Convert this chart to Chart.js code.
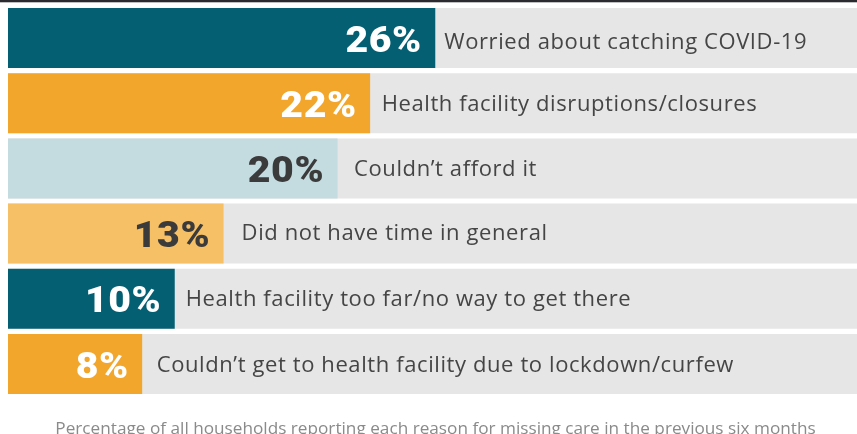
<!DOCTYPE html>
<html><head><meta charset="utf-8">
<script src="https://cdn.jsdelivr.net/npm/chart.js@4"></script>
<style>html,body{margin:0;padding:0;background:#fff}#w{width:857px;height:434px;position:relative}</style>
</head><body><div id="w"><canvas id="c"></canvas></div>
<script>
const categories = [
  "Worried about catching COVID-19",
  "Health facility disruptions/closures",
  "Couldn\u2019t afford it",
  "Did not have time in general",
  "Health facility too far/no way to get there",
  "Couldn\u2019t get to health facility due to lockdown/curfew"
];
const values = [26, 22, 20, 13, 10, 8];
const valueLabels = ["26%", "22%", "20%", "13%", "10%", "8%"];
const barColors = ["#045f73", "#f2a62b", "#c4dbe0", "#f6c066", "#045f73", "#f2a62b"];
const valueTextColors = ["#ffffff", "#ffffff", "#3b3b3b", "#3b3b3b", "#ffffff", "#ffffff"];
const caption = "Percentage of all households reporting each reason for missing care in the previous six months";
const scaleMin = -0.24, scaleMax = 51.9;
const trackValues = categories.map(() => scaleMax);
// label placement tweaks (style only)
const labelGap = [9, 11.5, 16.5, 18, 11, 14.5];
const labelDy = [10.5, 7.8, 7.2, 6.8, 7, 7.5];

const labelPlugin = {
  id: 'labels',
  beforeDraw(chart) {
    const ctx = chart.ctx;
    ctx.save();
    ctx.fillStyle = '#2b2b2f';
    ctx.fillRect(0, 0, chart.width, 2.3);
    ctx.restore();
  },
  afterDatasetsDraw(chart) {
    const ctx = chart.ctx;
    const meta = chart.getDatasetMeta(1);
    ctx.save();
    ctx.textBaseline = 'alphabetic';
    meta.data.forEach((bar, i) => {
      ctx.save();
      ctx.letterSpacing = '0.5px';
      ctx.font = '900 36px Roboto, "Liberation Sans", sans-serif';
      ctx.fillStyle = valueTextColors[i];
      ctx.textAlign = 'right';
      ctx.translate(bar.x - 13.5, bar.y + 13.5);
      ctx.scale(1.09, 1);
      ctx.fillText(valueLabels[i], 0, 0);
      ctx.restore();
      ctx.letterSpacing = '0.6px';
      ctx.font = '400 22px "Open Sans", "Liberation Sans", sans-serif';
      ctx.fillStyle = '#454545';
      ctx.textAlign = 'left';
      ctx.fillText(categories[i], bar.x + labelGap[i], bar.y + labelDy[i]);
    });
    ctx.letterSpacing = '0px';
    ctx.font = '400 17.2px "Open Sans", "Liberation Sans", sans-serif';
    ctx.fillStyle = '#8a8a8a';
    ctx.textAlign = 'center';
    ctx.fillText(caption, 435.5, 433.5);
    ctx.restore();
  }
};

new Chart(document.getElementById('c'), {
  type: 'bar',
  data: {
    labels: categories,
    datasets: [
      { data: trackValues, backgroundColor: '#e6e6e6', grouped: false, order: 2, base: scaleMin,
        categoryPercentage: 1, barPercentage: 0.92 },
      { data: values, backgroundColor: barColors, grouped: false, order: 1, base: scaleMin,
        categoryPercentage: 1, barPercentage: 0.92 }
    ]
  },
  options: {
    indexAxis: 'y',
    responsive: true,
    maintainAspectRatio: false,
    animation: false,
    layout: { padding: { left: 8, right: 0, top: 5.4, bottom: 37.4 } },
    scales: {
      x: { display: false, min: scaleMin, max: scaleMax },
      y: { display: false }
    },
    plugins: { legend: { display: false }, tooltip: { enabled: false } }
  },
  plugins: [labelPlugin]
});
</script>
</body></html>
